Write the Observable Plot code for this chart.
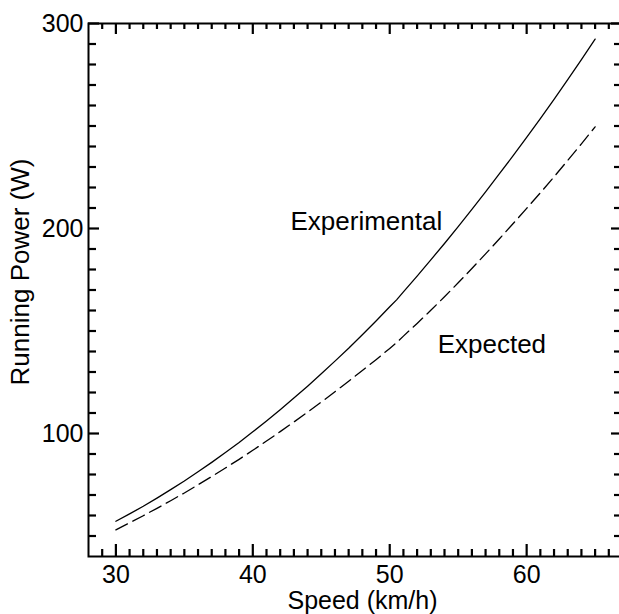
<!DOCTYPE html>
<html>
<head>
<meta charset="utf-8">
<script src="https://cdn.jsdelivr.net/npm/d3@7"></script>
<script src="https://cdn.jsdelivr.net/npm/@observablehq/plot@0.6"></script>
<style>
  html, body { margin: 0; padding: 0; background: #fff; overflow: hidden; }
</style>
</head>
<body>
<div id="chart"></div>
<script>
// Data
const speed = [30, 31, 32, 33, 34, 35, 36, 37, 38, 39, 40, 41, 42, 43, 44, 45, 46, 47, 48, 49, 50, 50.5, 51, 52, 53, 54, 55, 56, 57, 58, 59, 60, 61, 62, 63, 64, 65];
const experimental = [57.2, 60.8, 64.5, 68.5, 72.6, 76.8, 81.3, 85.9, 90.7, 95.6, 100.8, 106.1, 111.6, 117.3, 123.1, 129.1, 135.3, 141.6, 148.2, 154.9, 161.8, 165.2, 169.1, 176.8, 184.7, 192.7, 200.9, 209.3, 217.9, 226.6, 235.4, 244.4, 253.6, 263, 272.6, 282.4, 292.4];
const expected = [53, 56.4, 59.9, 63.5, 67.2, 71, 75, 79, 83.2, 87.4, 91.8, 96.3, 100.9, 105.6, 110.4, 115.3, 120.4, 125.5, 130.7, 136, 141.5, 144.3, 147.5, 153.7, 160.1, 166.7, 173.5, 180.5, 187.6, 194.9, 202.3, 209.8, 217.4, 225.2, 233.2, 241.3, 249.6];

const xMajorTicks = [30, 40, 50, 60];
const xMinorTicks = [29, 31, 32, 33, 34, 35, 36, 37, 38, 39, 41, 42, 43, 44, 45, 46, 47, 48, 49, 51, 52, 53, 54, 55, 56, 57, 58, 59, 61, 62, 63, 64, 65, 66];
const yMajorTicks = [100, 200, 300];
const yMinorTicks = [50, 60, 70, 80, 90, 110, 120, 130, 140, 150, 160, 170, 180, 190, 210, 220, 230, 240, 250, 260, 270, 280, 290];

const labelText = ["Experimental", "Expected"];
const labelSpeed = [42.75, 53.5];
const labelPower = [203.5, 143.4];

const xDomain = [28, 67];
const yDomain = [40, 300];

const expData = speed.map((s, i) => ({speed: s, power: experimental[i]}));
const expdData = speed.map((s, i) => ({speed: s, power: expected[i]}));
const labels = labelText.map((t, i) => ({text: t, speed: labelSpeed[i], power: labelPower[i]}));

const W = 622, H = 614;
const mL = 88, mR = 0, mT = 23, mB = 58;
const fw = W - mL - mR, fh = H - mT - mB;
// convert tick lengths in pixels to data units of each scale
const ux = px => px * (xDomain[1] - xDomain[0]) / fw;
const uy = px => px * (yDomain[1] - yDomain[0]) / fh;
const tk = {stroke: "black", strokeWidth: 2.2};

const ticksBottom = (t, px) => Plot.ruleX(t, {x: d => d, y1: yDomain[0], y2: yDomain[0] + uy(px), ...tk});
const ticksTop = (t, px) => Plot.ruleX(t, {x: d => d, y1: yDomain[1], y2: yDomain[1] - uy(px), ...tk});
const ticksLeft = (t, px) => Plot.ruleY(t, {y: d => d, x1: xDomain[0], x2: xDomain[0] + ux(px), ...tk});
const ticksRight = (t, px) => Plot.ruleY(t, {y: d => d, x1: xDomain[1], x2: xDomain[1] - ux(px), ...tk});

const chart = Plot.plot({
  width: W,
  height: H,
  marginLeft: mL,
  marginRight: mR,
  marginTop: mT,
  marginBottom: mB,
  style: {fontFamily: "'Liberation Sans', Arial, Helvetica, sans-serif", fontSize: "25px"},
  x: {domain: xDomain},
  y: {domain: yDomain},
  marks: [
    Plot.axisX({ticks: xMajorTicks, tickSize: 0, tickPadding: 9, fontSize: 25, label: null}),
    Plot.axisY({ticks: yMajorTicks, tickSize: 0, tickPadding: 5, fontSize: 25, label: null}),
    Plot.line(expData, {x: "speed", y: "power", stroke: "black", strokeWidth: 1.3}),
    Plot.line(expdData, {x: "speed", y: "power", stroke: "black", strokeWidth: 1.3, strokeDasharray: "13,6"}),
    Plot.text(labels, {x: "speed", y: "power", text: "text", textAnchor: "start", lineAnchor: "middle", fontSize: 26}),
    Plot.text(["Speed (km/h)"], {frameAnchor: "bottom", textAnchor: "middle", dx: 7, dy: 44, lineAnchor: "middle", fontSize: 25}),
    Plot.text(["Running Power (W)"], {frameAnchor: "left", rotate: -90, textAnchor: "middle", dx: -68, dy: -18, lineAnchor: "middle", fontSize: 26}),
    ticksBottom(xMajorTicks, 12),
    ticksBottom(xMinorTicks, 7),
    ticksTop(xMajorTicks, 11),
    ticksTop(xMinorTicks, 6),
    ticksLeft(yMajorTicks, 11),
    ticksLeft(yMinorTicks, 8),
    ticksRight(yMajorTicks, 11),
    ticksRight(yMinorTicks, 8),
    Plot.frame({stroke: "black", strokeWidth: 2})
  ]
});
chart.style.maxWidth = "none";
document.getElementById("chart").appendChild(chart);
</script>
</body>
</html>
